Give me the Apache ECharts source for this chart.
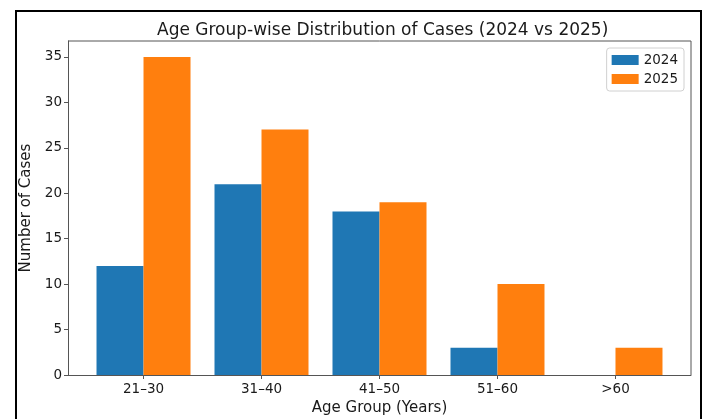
<!DOCTYPE html>
<html><head><meta charset="utf-8">
<script src="https://cdn.jsdelivr.net/npm/echarts@6/dist/echarts.min.js"></script>
<style>html,body{margin:0;padding:0;background:#fff}#c{width:706px;height:419px}</style>
</head><body><div id="c"></div>
<script>
const categories = ['21–30', '31–40', '41–50', '51–60', '>60'];
const cases2024 = [12, 21, 18, 3, 0];
const cases2025 = [35, 27, 19, 10, 3];
const yTicks = [0, 5, 10, 15, 20, 25, 30, 35];

const chart = echarts.init(document.getElementById('c'));
const font = 'DejaVu Sans';
chart.setOption({
  animation: false,
  backgroundColor: '#fff',
  textStyle: { fontFamily: font },
  title: {
    text: 'Age Group-wise Distribution of Cases (2024 vs 2025)',
    left: 152, top: 17,
    textStyle: { fontFamily: font, fontSize: 17, fontWeight: 'normal', color: '#1a1a1a' }
  },
  legend: {
    orient: 'vertical', right: 22, top: 48,
    icon: 'rect',
    itemWidth: 27, itemHeight: 10, itemGap: 5,
    padding: [5, 6, 5, 5],
    borderColor: '#d0d0d0', borderWidth: 1, borderRadius: 3,
    backgroundColor: '#fff',
    textStyle: { fontFamily: font, fontSize: 13.5, color: '#1a1a1a' },
    data: ['2024', '2025']
  },
  grid: { left: 68, right: 15, top: 41, bottom: 44, outerBoundsMode: 'none', containLabel: false },
  xAxis: {
    type: 'value', min: -0.64, max: 4.64,
    name: 'Age Group (Years)', nameLocation: 'middle', nameGap: 21,
    nameTextStyle: { fontFamily: font, fontSize: 15, color: '#1a1a1a' },
    axisLine: { show: true, onZero: false, lineStyle: { color: '#555', width: 1 } },
    axisTick: { show: true, length: 4, lineStyle: { color: '#555' }, customValues: [0, 1, 2, 3, 4] },
    axisLabel: { fontFamily: font, fontSize: 13.5, color: '#1a1a1a', margin: 7,
      customValues: [0, 1, 2, 3, 4], formatter: v => categories[Math.round(v)] },
    splitLine: { show: false }
  },
  yAxis: {
    type: 'value', min: 0, max: 36.75,
    name: 'Number of Cases', nameLocation: 'middle', nameGap: 24,
    nameTextStyle: { fontFamily: font, fontSize: 15, color: '#1a1a1a' },
    axisLine: { show: true, onZero: false, lineStyle: { color: '#555', width: 1 } },
    axisTick: { show: true, length: 4, lineStyle: { color: '#555' }, customValues: yTicks },
    axisLabel: { fontFamily: font, fontSize: 13.5, color: '#1a1a1a', margin: 6, customValues: yTicks },
    splitLine: { show: false }
  },
  graphic: [
    { type: 'rect', silent: true, shape: { x: 16, y: 11, width: 685, height: 420 },
      style: { fill: 'none', stroke: '#000', lineWidth: 2 }, z: 100 },
    { type: 'line', silent: true, shape: { x1: 68, y1: 41, x2: 691, y2: 41 },
      style: { stroke: '#555', lineWidth: 1 }, z: 50 },
    { type: 'line', silent: true, shape: { x1: 691, y1: 41, x2: 691, y2: 375 },
      style: { stroke: '#555', lineWidth: 1 }, z: 50 }
  ],
  series: [
    { name: '2024', type: 'bar', barWidth: 47, barGap: '0%',
      itemStyle: { color: '#1f77b4' },
      data: cases2024.map((v, i) => [i, v]) },
    { name: '2025', type: 'bar', barWidth: 47, barGap: '0%',
      itemStyle: { color: '#ff7f0e' },
      data: cases2025.map((v, i) => [i, v]) }
  ]
});
</script></body></html>
